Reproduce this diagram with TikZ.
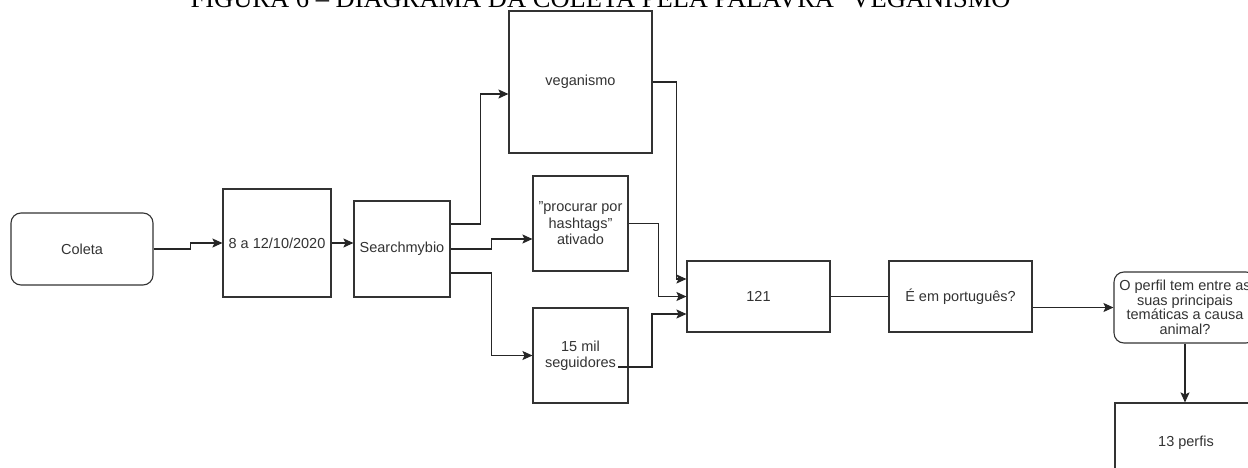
\documentclass[tikz,border=0pt]{standalone}
\usepackage{fontspec}
\setmainfont{Liberation Sans}
\newfontfamily\titlefont{Liberation Serif}
\usetikzlibrary{arrows.meta,calc,positioning}

\begin{document}
\begin{tikzpicture}[x=1pt, y=-1pt,
    caixa/.style={draw=black!80, line width=1.1pt, fill=white, align=center,
      text=black!80, inner sep=2pt,
      font=\fontsize{14.5}{16.5}\selectfont},
    arred/.style={caixa, rounded corners=10pt},
    seta/.style={draw=black!85, line width=1.1pt, -{Stealth[length=10pt, width=9pt, inset=2pt]}},
    liga/.style={draw=black!85, line width=1.1pt}
  ]
  \clip (0, 0) rectangle (1248, 468);

  % Titulo (cortado no topo)
  \node [anchor=base, font=\titlefont\fontsize{26.5}{26.5}\selectfont, inner sep=0pt] (titulo)
    at (606, 8) {FIGURA 6 – DIAGRAMA DA COLETA PELA PALAVRA "VEGANISMO"};

  % Caixas
  \node [arred, minimum width=142pt, minimum height=72pt] (coleta) at (82, 249) {Coleta};
  \node [caixa, minimum width=108pt, minimum height=108pt] (datas) at (277, 243) {8 a 12/10/2020};
  \node [caixa, minimum width=96pt, minimum height=96pt] (search) at (402, 249) {Searchmybio};
  \node [caixa, minimum width=143pt, minimum height=142pt] (vegan) at (580.5, 82) {veganismo};
  \node [caixa, minimum width=95pt, minimum height=95pt] (hash) at (580.5, 223.5)
    {\symbol{34}procurar por\\hashtags\symbol{34}\\ativado};
  \node [caixa, minimum width=95pt, minimum height=95pt] (seg) at (580.5, 355.5)
    {15 mil\\seguidores};
  \node [caixa, minimum width=143pt, minimum height=71pt] (n121) at (758.5, 296.5) {121};
  \node [caixa, minimum width=143pt, minimum height=71pt] (port) at (960.5, 296.5) {É em português?};
  \node [arred, minimum width=142pt, minimum height=71pt, inner sep=0pt,
    font=\fontsize{14.5}{14.5}\selectfont] (perfil) at (1185, 307.5)
    {O perfil tem entre as\\suas principais\\temáticas a causa\\animal?};
  \node [caixa, minimum width=142pt, minimum height=80pt] (trezep) at (1186, 443) {13 perfis};

  % Ligacoes
  \draw [seta] (coleta.east) -- ++(37, 0) |- (datas.west);
  \draw [seta] (datas.east) -- (search.west |- datas.east);
  \draw [seta] ($(search.east)+(0, -25)$) -- ++(30, 0) |- ($(vegan.west)+(0, 12)$);
  \draw [seta] (search.east) -- ++(41, 0) |- ($(hash.west)+(0, 15.5)$);
  \draw [seta] ($(search.east)+(0, 24)$) -- ++(41, 0) |- (seg.west);

  % Entradas do 121
  \draw [seta] (vegan.east) -- ++(24, 0) |- ($(n121.west)+(0, -17.5)$);
  \draw [seta] (hash.east) -- ++(30, 0) |- (n121.west);
  \coordinate (segfim) at ($(seg.center)+(37.5, 11.5)$);
  \draw [seta] (segfim) -- ++(34, 0) |- ($(n121.west)+(0, 17.5)$);

  \draw [liga] (n121.east) -- (port.west);
  \draw [seta] (port.east |- perfil.west) -- (perfil.west);
  \draw [seta] (perfil.south) -- (perfil.south |- trezep.north);
\end{tikzpicture}
\end{document}
